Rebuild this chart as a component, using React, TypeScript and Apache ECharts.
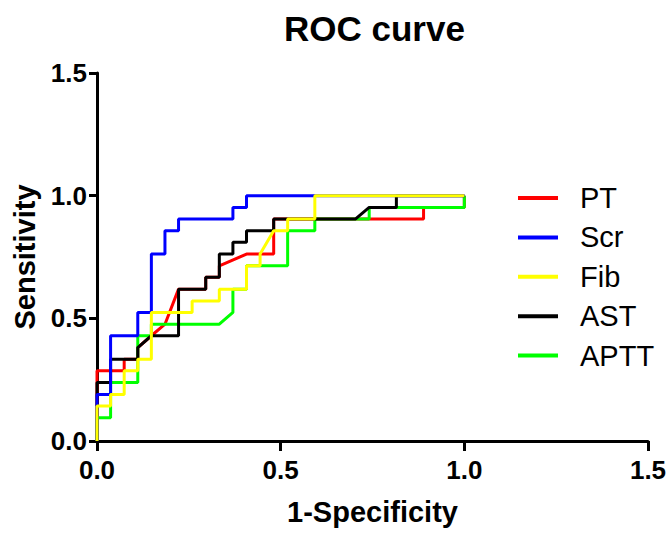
import React, { useEffect, useRef } from "react";
import * as echarts from "echarts";

const titleText = "ROC curve";
const xName = "1-Specificity";
const yName = "Sensitivity";
const axisTicks = [0, 0.5, 1.0, 1.5];

const seriesNames = ["PT", "Scr", "Fib", "AST", "APTT"];
const seriesColors = ["#ff0000", "#0000ff", "#ffff00", "#000000", "#00ff00"];
const seriesZ = [2, 5, 6, 4, 3];

const ptData = [
  [0, 0], [0, 0.286], [0.074, 0.286], [0.074, 0.333], [0.111, 0.333], [0.111, 0.381],
  [0.148, 0.429], [0.185, 0.476], [0.222, 0.619], [0.296, 0.619], [0.296, 0.667],
  [0.333, 0.667], [0.333, 0.714], [0.407, 0.762], [0.481, 0.762], [0.481, 0.905],
  [0.889, 0.905], [0.889, 0.952], [1, 0.952], [1, 1],
];
const scrData = [
  [0, 0], [0, 0.19], [0.037, 0.19], [0.037, 0.429], [0.111, 0.429], [0.111, 0.524],
  [0.148, 0.524], [0.148, 0.762], [0.185, 0.762], [0.185, 0.857], [0.222, 0.857],
  [0.222, 0.905], [0.37, 0.905], [0.37, 0.952], [0.407, 0.952], [0.407, 1], [0.593, 1], [1, 1],
];
const fibData = [
  [0, 0], [0, 0.143], [0.037, 0.143], [0.037, 0.19], [0.074, 0.19], [0.074, 0.286],
  [0.111, 0.286], [0.111, 0.333], [0.148, 0.333], [0.148, 0.524], [0.259, 0.524],
  [0.259, 0.571], [0.333, 0.571], [0.333, 0.619], [0.407, 0.619], [0.407, 0.714],
  [0.444, 0.714], [0.444, 0.762], [0.481, 0.857], [0.519, 0.857], [0.519, 0.905],
  [0.593, 0.905], [0.593, 1], [1, 1],
];
const astData = [
  [0, 0], [0, 0.238], [0.037, 0.238], [0.037, 0.333], [0.111, 0.333], [0.111, 0.381],
  [0.148, 0.429], [0.222, 0.429], [0.222, 0.619], [0.296, 0.619], [0.296, 0.667],
  [0.333, 0.667], [0.333, 0.762], [0.37, 0.762], [0.37, 0.81], [0.407, 0.81],
  [0.407, 0.857], [0.481, 0.857], [0.481, 0.905], [0.704, 0.905], [0.741, 0.952],
  [0.815, 0.952], [0.815, 1], [1, 1],
];
const apttData = [
  [0, 0], [0, 0.095], [0.037, 0.095], [0.037, 0.238], [0.111, 0.238], [0.111, 0.429],
  [0.148, 0.429], [0.148, 0.476], [0.333, 0.476], [0.37, 0.524], [0.37, 0.619],
  [0.407, 0.619], [0.407, 0.714], [0.519, 0.714], [0.519, 0.857], [0.593, 0.857],
  [0.593, 0.905], [0.704, 0.905], [0.741, 0.905], [0.741, 0.952], [1, 0.952], [1, 1],
];

const allData = [ptData, scrData, fibData, astData, apttData];

const FONT = "'Liberation Sans', Arial, Helvetica, sans-serif";

export default function App() {
  const ref = useRef<HTMLDivElement>(null);
  useEffect(() => {
    if (!ref.current) return;
    const chart = echarts.init(ref.current, undefined, { renderer: "svg" });
    const axisCommon = {
      type: "value" as const,
      min: axisTicks[0],
      max: axisTicks[axisTicks.length - 1],
      interval: 0.5,
      splitLine: { show: false },
      axisLine: { show: true, onZero: false, lineStyle: { color: "#000", width: 3 } },
      axisLabel: {
        color: "#000",
        fontFamily: FONT,
        fontWeight: "bold" as const,
        fontSize: 26,
        formatter: (v: number) => v.toFixed(1),
      },
      nameLocation: "middle" as const,
      nameTextStyle: { color: "#000", fontFamily: FONT, fontWeight: "bold" as const, fontSize: 29 },
    };
    chart.setOption({
      animation: false,
      backgroundColor: "#fff",
      title: {
        text: titleText,
        left: 284,
        top: 11,
        padding: 0,
        textStyle: { color: "#000", fontFamily: FONT, fontWeight: "bold", fontSize: 35 },
      },
      grid: { left: 97, right: 24, top: 73, bottom: 93, containLabel: false },
      legend: {
        orient: "vertical",
        left: 518,
        top: 183.5,
        padding: 0,
        itemWidth: 40,
        itemHeight: 4,
        itemGap: 10.4,
        icon: "rect",
        data: seriesNames,
        textStyle: {
          color: "#000",
          fontFamily: FONT,
          fontSize: 29,
          lineHeight: 29,
          padding: [0, 0, 0, 17],
        },
      },
      xAxis: {
        ...axisCommon,
        name: xName,
        nameGap: 56,
        axisTick: { show: true, length: 10, lineStyle: { color: "#000", width: 3 } },
        axisLabel: { ...axisCommon.axisLabel, margin: 16 },
      },
      yAxis: {
        ...axisCommon,
        name: yName,
        nameGap: 52,
        nameRotate: 90,
        axisTick: { show: true, length: 8, lineStyle: { color: "#000", width: 3 } },
        axisLabel: { ...axisCommon.axisLabel, margin: 10 },
      },
      series: seriesNames.map((name, i) => ({
        name,
        type: "line",
        data: allData[i],
        symbol: "none",
        showSymbol: false,
        z: seriesZ[i],
        color: seriesColors[i],
        itemStyle: { color: seriesColors[i] },
        lineStyle: { color: seriesColors[i], width: 3 },
      })),
    });
    return () => chart.dispose();
  }, []);
  return <div ref={ref} style={{ width: 672, height: 534, position: "absolute", left: 0, top: 0 }} />;
}
